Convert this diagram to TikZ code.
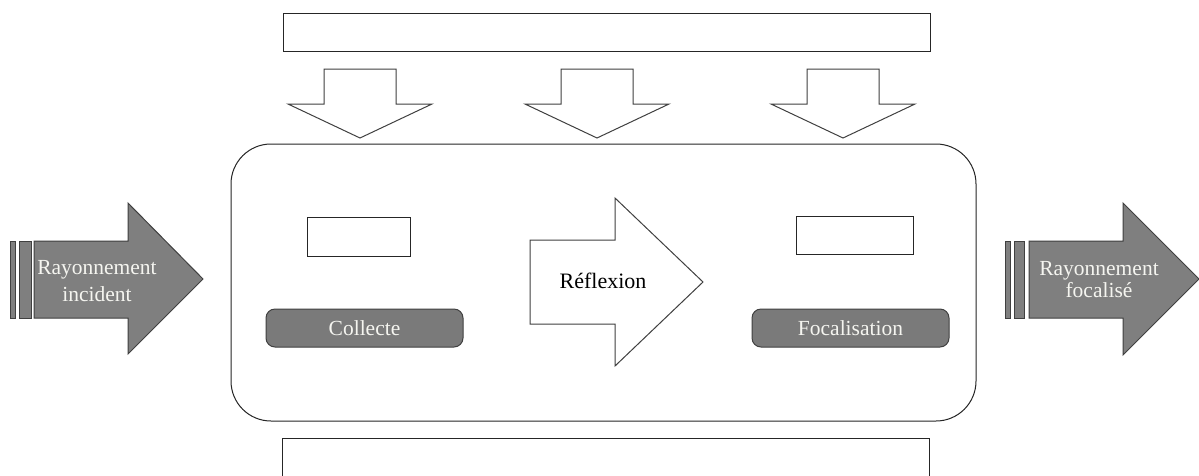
\documentclass[tikz,border=0pt]{standalone}
\usepackage{fontspec}
\setmainfont{Liberation Serif}
\definecolor{arrowgray}{RGB}{127,127,127}
\definecolor{edgegray}{RGB}{64,64,64}
\definecolor{boxgray}{RGB}{122,122,122}
\definecolor{lighttext}{RGB}{245,245,240}
\begin{document}
\begin{tikzpicture}[x=1pt,y=-1pt,
  plainbox/.style={draw=black!85, line width=1pt, fill=white, inner sep=0pt},
  graybox/.style={draw=edgegray, line width=1pt, fill=boxgray, rounded corners=9pt, inner sep=0pt, text=lighttext, font=\fontsize{21.5}{25}\selectfont},
  hollowarrow/.style={draw=edgegray, line width=1pt, fill=white, line join=miter},
  darkarrow/.style={draw=edgegray, line width=1pt, fill=arrowgray},
  lbl/.style={inner sep=0pt}]
\clip (0,0) rectangle (1199,475);
\fill[white] (0,0) rectangle (1199,475);

% top bar
\node[plainbox, minimum width=647pt, minimum height=38pt] (topbar) at (606.5,32) {};

% three hollow down arrows
\foreach \cx in {360,597,843}{
  \draw[hollowarrow] (\cx-36,69) -- (\cx+36,69) -- (\cx+36,104) -- (\cx+72,104)
     -- (\cx,138) -- (\cx-72,104) -- (\cx-36,104) -- cycle;
}

% main rounded frame
\node[draw=black!85, line width=1pt, rounded corners=40pt, inner sep=0pt,
      minimum width=745pt, minimum height=277pt] (frame) at (603.5,282.5) {};

% small empty rectangles
\node[plainbox, minimum width=103pt, minimum height=39pt] (rectA) at (358.5,236.5) {};
\node[plainbox, minimum width=117pt, minimum height=38pt] (rectB) at (854.5,235) {};

% gray labelled boxes
\node[graybox, minimum width=197pt, minimum height=38pt] (collecte) at (364.5,328) {Collecte};
\node[graybox, minimum width=197pt, minimum height=38pt] (focal) at (850.5,328) {Focalisation};

% middle hollow arrow
\draw[hollowarrow] (530,240) -- (615,240) -- (615,198) -- (703,282) -- (615,366)
   -- (615,324) -- (530,324) -- cycle;
\node[lbl, anchor=base, font=\fontsize{22}{26}\selectfont] (reflexion) at (603,288) {Réflexion};

% left striped arrow
\draw[darkarrow] (10.7,241) rectangle (15.7,318);
\draw[darkarrow] (19,241) rectangle (31,318);
\draw[darkarrow] (34,241) -- (128,241) -- (128,203) -- (203,279) -- (128,354)
   -- (128,318) -- (34,318) -- cycle;
\node[lbl, align=center, text=lighttext, font=\fontsize{21.5}{27}\selectfont] (incident) at (97,281) {Rayonnement\\incident};

% right striped arrow
\draw[darkarrow] (1005,241) rectangle (1010,318);
\draw[darkarrow] (1014,241) rectangle (1024,318);
\draw[darkarrow] (1029,241) -- (1123,241) -- (1123,203) -- (1199,279) -- (1123,355)
   -- (1123,318) -- (1029,318) -- cycle;
\node[lbl, align=center, text=lighttext, font=\fontsize{21.5}{22}\selectfont] (focalise) at (1099,280) {Rayonnement\\focalisé};

% bottom bar (cut by the lower edge)
\node[plainbox, minimum width=647pt, minimum height=60pt] (bottombar) at (605.5,468) {};
\end{tikzpicture}
\end{document}
